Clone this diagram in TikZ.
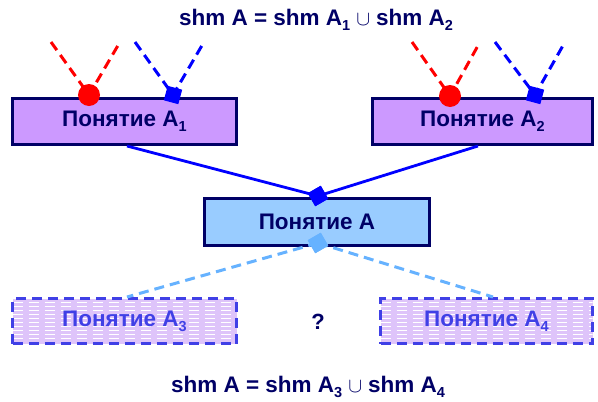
\documentclass[tikz,border=0pt]{standalone}
\usepackage{fontspec}
\setmainfont{Liberation Sans}
\usetikzlibrary{calc}
\definecolor{navy}{RGB}{0,0,102}
\definecolor{conceptfill}{RGB}{204,153,255}
\definecolor{mainfill}{RGB}{153,204,255}
\definecolor{linkblue}{RGB}{0,0,255}
\definecolor{paleblue}{RGB}{102,178,255}
\definecolor{hypoborder}{RGB}{64,64,230}
\definecolor{hypofill}{RGB}{222,196,250}
\newcommand{\idx}[1]{{\fontsize{14.5}{14.5}\selectfont\raisebox{-5pt}{#1}}}
\newcommand{\union}{\hspace*{6pt}{\fontsize{22}{22}\selectfont$\cup$}\hspace*{6pt}}
\tikzset{
  concept/.style={draw=navy, line width=3pt, fill=conceptfill, minimum height=46pt,
    font=\fontsize{22.5}{22.5}\selectfont\bfseries, text=navy, inner sep=0pt},
  mainconcept/.style={concept, fill=mainfill, minimum height=47pt},
  hypo/.style={draw=hypoborder, line width=3pt, dash pattern=on 10pt off 6pt, fill=hypofill,
    minimum height=45pt, inner sep=0pt,
    font=\fontsize{22.5}{22.5}\selectfont\bfseries, text=hypoborder,
    path picture={\foreach \k in {1,...,11}
      \draw[white, line width=1pt]
        ([yshift=-\k*4pt]path picture bounding box.north west) --
        ([yshift=-\k*4pt]path picture bounding box.north east);}},
  redlink/.style={red, line width=3pt, dash pattern=on 10pt off 6pt},
  bluelink/.style={linkblue, line width=3pt, dash pattern=on 10pt off 6pt},
  solidlink/.style={linkblue, line width=2.8pt},
  palelink/.style={paleblue, line width=3pt, dash pattern=on 10pt off 6pt},
  dot/.style={circle, fill=red, minimum size=22pt, inner sep=0pt},
  sq/.style={rectangle, fill=linkblue, minimum size=15pt, inner sep=0pt},
  palesq/.style={rectangle, fill=paleblue, minimum size=15pt, inner sep=0pt},
  formula/.style={font=\fontsize{22.5}{22.5}\selectfont\bfseries, text=navy, anchor=base}
}
\begin{document}
\begin{tikzpicture}[x=1pt, y=-1pt]
\useasboundingbox (0,0) rectangle (598,402);

% formulas
\node[formula] (top) at (316,25) {shm A = shm A\idx{1}\union shm A\idx{2}};
\node[formula] (bottom) at (308,392) {shm A = shm A\idx{3}\union shm A\idx{4}};

% free ends of the incoming links
\coordinate (r1a) at (51,42);  \coordinate (r1b) at (120,42);
\coordinate (b1a) at (135,42); \coordinate (b1b) at (204,42);
\coordinate (r2a) at (412,42); \coordinate (r2b) at (480,42);
\coordinate (b2a) at (495,42); \coordinate (b2b) at (565,42);

% concepts
\node[concept, minimum width=224pt] (a1) at (124.5,121.5) {Понятие A\idx{1}};
\node[concept, minimum width=220pt] (a2) at (482.5,121.5) {Понятие A\idx{2}};
\node[mainconcept, minimum width=225pt] (a) at (317,222) {Понятие A};
\node[hypo, minimum width=224pt] (a3) at (124.5,321) {Понятие A\idx{3}};
\node[hypo, minimum width=212pt] (a4) at (486.5,321) {Понятие A\idx{4}};
\node[font=\fontsize{22}{22}\selectfont\bfseries, text=navy] (q) at (318,322) {?};

% incoming dashed links
\coordinate (c1) at (89,95);
\coordinate (s1) at (173,95);
\coordinate (c2) at (450,96);
\coordinate (s2) at (535,95);
\draw[redlink] (r1a) -- (c1) -- (r1b);
\draw[bluelink] (b1a) -- (s1) -- (b1b);
\draw[redlink] (r2a) -- (c2) -- (r2b);
\draw[bluelink] (b2a) -- (s2) -- (b2b);
\node[dot] (d1) at (c1) {};
\node[sq, rotate=-15] (q1) at (s1) {};
\node[dot] (d2) at (c2) {};
\node[sq, rotate=-15] (q2) at (s2) {};

% generalisation links
\node[sq, rotate=30] (dt) at (318,196) {};
\draw[solidlink] ([xshift=2.5pt]a1.south) -- (dt.center);
\draw[solidlink] ([xshift=-4.5pt]a2.south) -- (dt.center);
\node[sq, rotate=30] at (318,196) {};

% hypothetical links
\coordinate (e3) at (127,297);
\coordinate (e4) at (493,297);
\node[palesq, rotate=30] (db) at (318,243) {};
\draw[palelink] (db.center) -- (e3);
\draw[palelink] (db.center) -- (e4);
\node[palesq, rotate=30] at (318,243) {};
\end{tikzpicture}
\end{document}
